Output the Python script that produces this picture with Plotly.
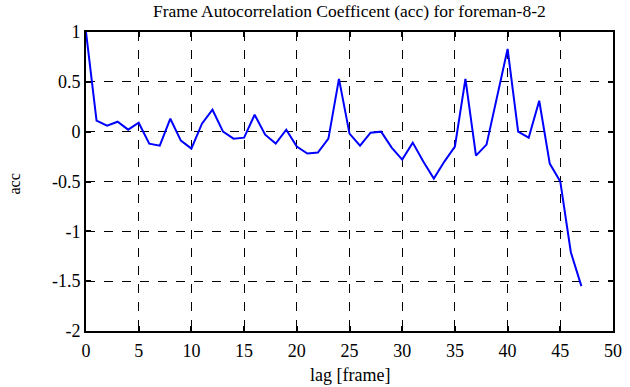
import plotly.graph_objects as go

lag = list(range(48))
acc = [1.0, 0.11, 0.06, 0.10, 0.02, 0.09, -0.12, -0.14, 0.13, -0.09,
       -0.17, 0.08, 0.22, 0.00, -0.07, -0.06, 0.17, -0.03, -0.12, 0.02,
       -0.15, -0.22, -0.21, -0.07, 0.53, -0.02, -0.14, -0.01, 0.00, -0.16,
       -0.28, -0.11, -0.30, -0.47, -0.30, -0.15, 0.53, -0.24, -0.13, 0.36,
       0.83, 0.00, -0.06, 0.31, -0.32, -0.50, -1.21, -1.55]

x_ticks = list(range(0, 51, 5))
y_ticks = [1, 0.5, 0, -0.5, -1, -1.5, -2]
y_tick_text = ["1", "0.5", "0", "-0.5", "-1", "-1.5", "-2"]

title_text = "Frame Autocorrelation Coefficent (acc) for foreman-8-2"
x_title = "lag [frame]"
y_title = "acc"

serif = "Liberation Serif"

fig = go.Figure()
fig.add_trace(go.Scatter(x=lag, y=acc, mode="lines",
                         line=dict(color="#0000ff", width=2)))

fig.update_layout(
    width=630, height=387,
    margin=dict(l=86, r=17, t=32, b=56, autoexpand=False),
    paper_bgcolor="white", plot_bgcolor="white",
    showlegend=False,
    font=dict(family=serif, size=16, color="black"),
    annotations=[
        dict(text=title_text, xref="paper", yref="paper", x=0.5, y=1,
             xanchor="center", yanchor="bottom", yshift=9, showarrow=False,
             font=dict(family=serif, size=17.5, color="black")),
        dict(text=x_title, xref="paper", yref="paper", x=0.5, y=0,
             xanchor="center", yanchor="top", yshift=-32, showarrow=False,
             font=dict(family=serif, size=18, color="black")),
        dict(text=y_title, xref="paper", yref="paper", x=0, y=0.5,
             xanchor="center", yanchor="middle", xshift=-72, yshift=-3,
             textangle=-90, showarrow=False,
             font=dict(family=serif, size=16, color="black")),
    ],
)
fig.update_xaxes(
    range=[0, 50], tickvals=x_ticks, ticks="inside", ticklen=5, tickwidth=1.5,
    tickcolor="black", showline=True, linecolor="black", linewidth=2, mirror="ticks",
    showgrid=True, gridcolor="black", griddash="dash", gridwidth=1,
    zeroline=False, tickfont=dict(family=serif, size=18, color="black"),
    ticklabelstandoff=2, automargin=False,
)
fig.update_yaxes(
    range=[-2, 1], tickvals=y_ticks, ticktext=y_tick_text, ticks="inside",
    ticklen=5, tickwidth=1.5, tickcolor="black", showline=True, linecolor="black",
    linewidth=2, mirror="ticks", showgrid=True, gridcolor="black", griddash="dash",
    gridwidth=1, zeroline=False, tickfont=dict(family=serif, size=18, color="black"),
    automargin=False,
)

fig.write_html("out.html", config={"displayModeBar": False},
               post_script="document.body.style.margin='0px';")
